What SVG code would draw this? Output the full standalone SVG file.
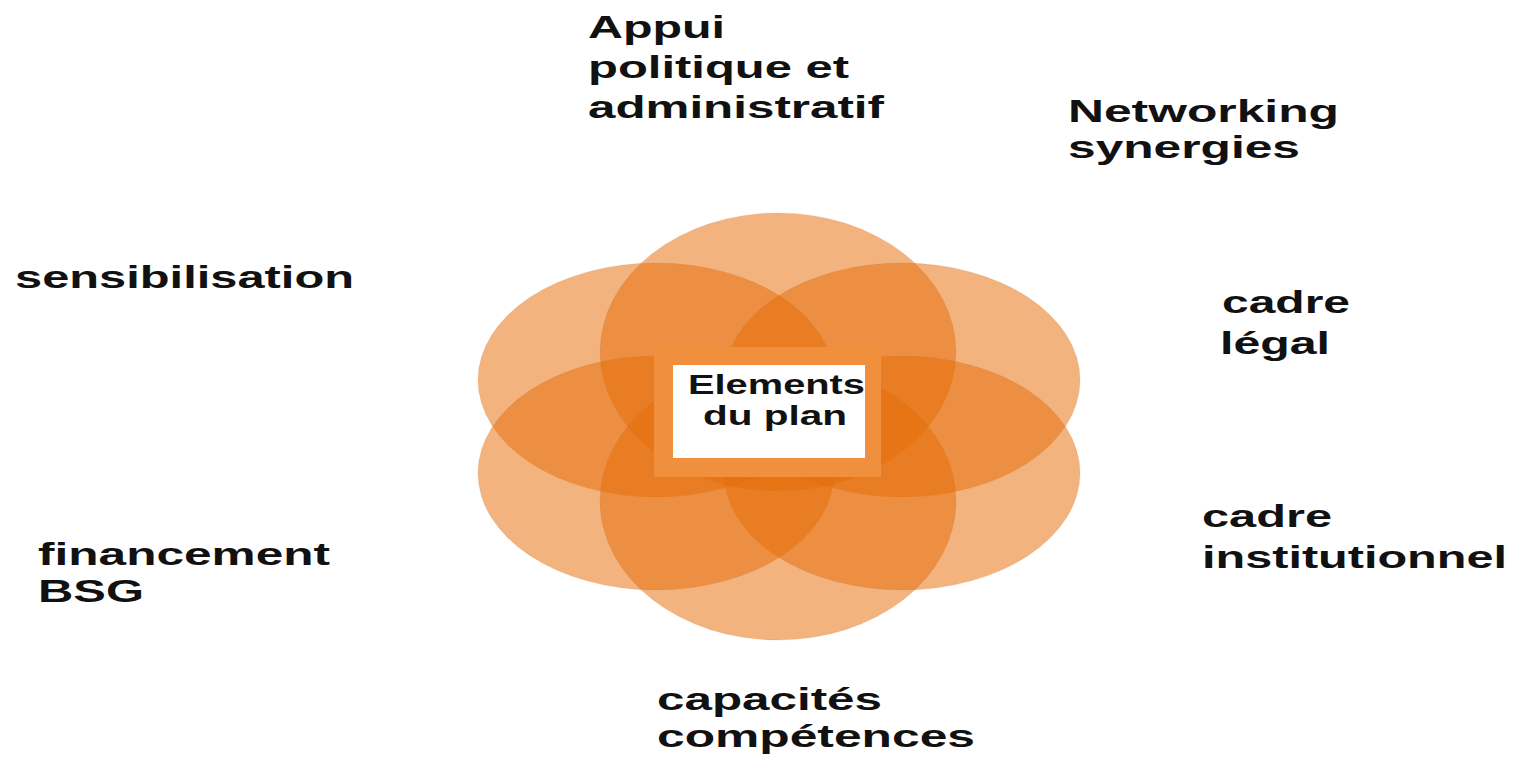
<svg xmlns="http://www.w3.org/2000/svg" width="1515" height="761" viewBox="0 0 1515 761">
<style>
.petal{fill:#E66E0A;fill-opacity:0.52;stroke:#C9641E;stroke-opacity:0.15;stroke-width:1}
.lbl{font-family:"Liberation Sans",Arial,sans-serif;font-weight:bold;font-size:32px;fill:#111}
.ctr{font-family:"Liberation Sans",Arial,sans-serif;font-weight:bold;font-size:28px;fill:#111}
</style>
<rect x="0" y="0" width="1515" height="761" fill="#ffffff"/>
<g id="flower">
<ellipse class="petal" cx="778" cy="352" rx="178" ry="139"/>
<ellipse class="petal" cx="656" cy="380" rx="178" ry="117"/>
<ellipse class="petal" cx="902" cy="380" rx="178" ry="117"/>
<ellipse class="petal" cx="656" cy="473" rx="178" ry="117"/>
<ellipse class="petal" cx="902" cy="473" rx="178" ry="117"/>
<ellipse class="petal" cx="778" cy="501" rx="178" ry="139"/>
</g>
<g id="center">
<rect x="654" y="347" width="227" height="130" fill="#F0903F"/>
<rect x="673" y="365" width="192" height="93" fill="#ffffff"/>
<text class="ctr" x="688" y="394" textLength="177" lengthAdjust="spacingAndGlyphs">Elements</text>
<text class="ctr" x="703" y="425" textLength="144" lengthAdjust="spacingAndGlyphs">du plan</text>
</g>
<g id="connectors"></g>
<g id="appui">
<text class="lbl" x="588" y="38" textLength="137" lengthAdjust="spacingAndGlyphs">Appui</text>
<text class="lbl" x="588" y="78" textLength="261" lengthAdjust="spacingAndGlyphs">politique et</text>
<text class="lbl" x="588" y="118" textLength="296" lengthAdjust="spacingAndGlyphs">administratif</text>
</g>
<g id="networking">
<text class="lbl" x="1068" y="122" textLength="271" lengthAdjust="spacingAndGlyphs">Networking</text>
<text class="lbl" x="1068" y="158" textLength="232" lengthAdjust="spacingAndGlyphs">synergies</text>
</g>
<g id="sensibilisation">
<text class="lbl" x="15" y="288" textLength="339" lengthAdjust="spacingAndGlyphs">sensibilisation</text>
</g>
<g id="cadre-legal">
<text class="lbl" x="1222" y="313" textLength="128" lengthAdjust="spacingAndGlyphs">cadre</text>
<text class="lbl" x="1220" y="354" textLength="110" lengthAdjust="spacingAndGlyphs">légal</text>
</g>
<g id="cadre-institutionnel">
<text class="lbl" x="1202" y="527" textLength="130" lengthAdjust="spacingAndGlyphs">cadre</text>
<text class="lbl" x="1202" y="568" textLength="305" lengthAdjust="spacingAndGlyphs">institutionnel</text>
</g>
<g id="financement">
<text class="lbl" x="38" y="565" textLength="292" lengthAdjust="spacingAndGlyphs">financement</text>
<text class="lbl" x="38" y="602" textLength="106" lengthAdjust="spacingAndGlyphs">BSG</text>
</g>
<g id="capacites">
<text class="lbl" x="657" y="710" textLength="225" lengthAdjust="spacingAndGlyphs">capacités</text>
<text class="lbl" x="657" y="747" textLength="318" lengthAdjust="spacingAndGlyphs">compétences</text>
</g>
</svg>
